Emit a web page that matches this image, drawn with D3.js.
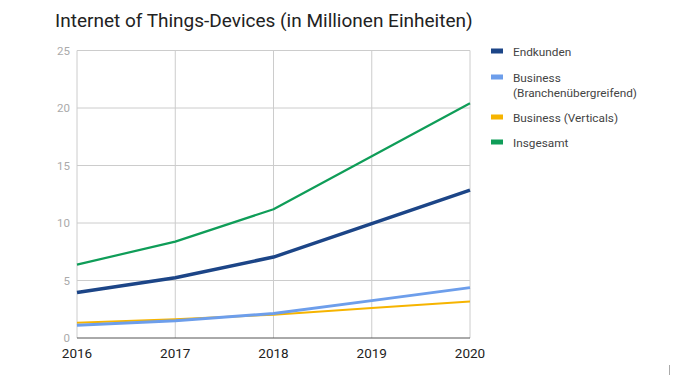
<!DOCTYPE html>
<html>
<head>
<meta charset="utf-8">
<script src="https://cdn.jsdelivr.net/npm/d3@7"></script>
<style>
  body { margin: 0; background: #fff; }
  svg { font-family: Roboto, "Noto Sans", sans-serif; }
</style>
</head>
<body>
<div id="chart"></div>
<script>
var years = [2016, 2017, 2018, 2019, 2020];
var endkunden = [3.96, 5.24, 7.04, 9.95, 12.86];
var business = [1.10, 1.50, 2.13, 3.25, 4.38];
var verticals = [1.32, 1.64, 2.03, 2.6, 3.17];
var insgesamt = [6.38, 8.38, 11.2, 15.8, 20.42];
var yTicks = [0, 5, 10, 15, 20, 25];

var series = [
  { name: "Endkunden", values: endkunden, color: "#1c4587", width: 3.5 },
  { name: "Business (Branchenübergreifend)", values: business, color: "#6d9eeb", width: 3 },
  { name: "Business (Verticals)", values: verticals, color: "#f6b400", width: 2 },
  { name: "Insgesamt", values: insgesamt, color: "#0f9d58", width: 2.2 }
];

var W = 700, H = 375;
var svg = d3.select("#chart").append("svg")
  .attr("width", W).attr("height", H);

var x = d3.scaleLinear().domain([2016, 2020]).range([77, 470]);
var y = d3.scaleLinear().domain([0, 25]).range([338, 50.5]);

svg.append("text")
  .attr("x", 55).attr("y", 27)
  .attr("font-size", 19)
  .attr("fill", "#222")
  .text("Internet of Things-Devices (in Millionen Einheiten)");

// grid
svg.append("g").selectAll("line").data(yTicks.slice(1)).join("line")
  .attr("x1", x(2016)).attr("x2", x(2020))
  .attr("y1", d => y(d)).attr("y2", d => y(d))
  .attr("stroke", "#ccc").attr("stroke-width", 1);
svg.append("g").selectAll("line").data(years).join("line")
  .attr("x1", d => x(d)).attr("x2", d => x(d))
  .attr("y1", y(0)).attr("y2", y(25))
  .attr("stroke", "#ccc").attr("stroke-width", 1);

// y labels
svg.append("g").selectAll("text").data(yTicks).join("text")
  .attr("x", 70).attr("y", d => y(d) + 4)
  .attr("text-anchor", "end")
  .attr("font-size", 11.5)
  .attr("fill", "#aaa")
  .text(d => d);

// x labels
svg.append("g").selectAll("text").data(years).join("text")
  .attr("x", d => x(d)).attr("y", 358)
  .attr("text-anchor", "middle")
  .attr("font-size", 13.5)
  .attr("fill", "#222")
  .text(d => d);

// lines
var line = d3.line()
  .x((d, i) => x(years[i]))
  .y(d => y(d));

svg.append("g").selectAll("path").data(series.slice().reverse()).join("path")
  .attr("d", d => line(d.values))
  .attr("fill", "none")
  .attr("stroke", d => d.color)
  .attr("stroke-width", d => d.width)
  .attr("stroke-linejoin", "round");

// bottom axis line
svg.append("line")
  .attr("x1", x(2016)).attr("x2", x(2020))
  .attr("y1", y(0)).attr("y2", y(0))
  .attr("stroke", "#555").attr("stroke-width", 1);

// legend
var legY = [51, 77, 117, 142];
var leg = svg.append("g").selectAll("g").data(series).join("g")
  .attr("transform", (d, i) => "translate(491," + legY[i] + ")");
leg.append("rect")
  .attr("x", 0).attr("y", -2.5).attr("width", 12).attr("height", 5)
  .attr("fill", d => d.color);
leg.append("text")
  .attr("x", 22).attr("y", 4.5)
  .attr("font-size", 11.8)
  .attr("fill", "#444")
  .each(function (d) {
    var t = d3.select(this);
    var m = d.name.match(/^(Business) (\(Branchen.*\))$/);
    if (m) {
      t.append("tspan").attr("x", 22).text(m[1]);
      t.append("tspan").attr("x", 22).attr("dy", 15.5).text(m[2]);
    } else {
      t.text(d.name);
    }
  });

svg.append("line")
  .attr("x1", 669.5).attr("x2", 669.5)
  .attr("y1", 365).attr("y2", 375)
  .attr("stroke", "#aaa").attr("stroke-width", 1);
</script>
</body>
</html>
